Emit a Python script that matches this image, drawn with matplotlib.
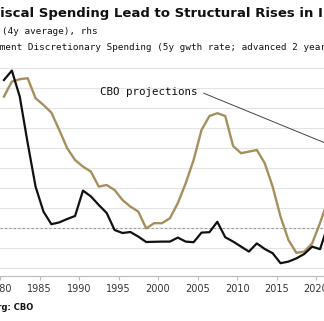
import matplotlib
matplotlib.use("Agg")
import matplotlib.pyplot as plt
import numpy as np

# ── Data (index units, dashed line = 0) ──────────────────────────────────────

YEARS = list(range(1980, 2022))

DEFICIT_4Y = [
    7.40, 7.87, 6.57, 4.25, 2.07, 0.82, 0.19, 0.28, 0.45, 0.60,
    1.87, 1.58, 1.15, 0.75, -0.10, -0.25, -0.20, -0.43, -0.70, -0.69,
    -0.68, -0.68, -0.48, -0.68, -0.71, -0.23, -0.21, 0.31, -0.46, -0.68,
    -0.93, -1.18, -0.77, -1.05, -1.26, -1.76, -1.68, -1.52, -1.30, -0.93,
    -1.06, 0.15,
]

DISCRETIONARY_5Y = [
    6.57, 7.32, 7.44, 7.49, 6.49, 6.15, 5.77, 4.90, 3.99, 3.40,
    3.07, 2.82, 2.07, 2.15, 1.90, 1.40, 1.07, 0.82, -0.02, 0.24,
    0.24, 0.49, 1.24, 2.24, 3.40, 4.90, 5.60, 5.74, 5.60, 4.10,
    3.74, 3.82, 3.90, 3.24, 2.07, 0.57, -0.60, -1.24, -1.18, -0.77,
    0.25, 1.40,
]

XTICKS = [1980, 1985, 1990, 1995, 2000, 2005, 2010, 2015, 2020]

TITLE = "Fiscal Spending Lead to Structural Rises in I"
LINE2 = "Deficit (4y average), rhs"
LINE3 = "Government Discretionary Spending (5y gwth rate; advanced 2 years)"
SOURCE = "Bloomberg: CBO"

GOLD = "#a68f5e"
W, H = 324, 321

# ── Figure ───────────────────────────────────────────────────────────────────

fig = plt.figure(figsize=(W / 100, H / 100), dpi=100)
ax = fig.add_axes([0.0, (H - 276) / H, 1.0, (276 - 56) / H])

x = np.array(YEARS) + 0.5   # mid-year
ax.plot(x, DISCRETIONARY_5Y, color=GOLD, lw=1.7, solid_joinstyle="round", zorder=3)
ax.plot(x, DEFICIT_4Y, color="#111111", lw=1.6, solid_joinstyle="round", zorder=4)

ax.set_xlim(1980.5, 2021.0)
ax.set_ylim(-2.4, 8.6)
ax.set_yticks(range(-2, 9))
ax.yaxis.grid(True, color="#e4e4e4", lw=0.8)
ax.axhline(0, color="#9a9a9a", lw=0.8, ls=(0, (2, 2)), zorder=2)
ax.set_axisbelow(True)

ax.set_xticks(XTICKS)
ax.set_xticklabels([str(t) for t in XTICKS])
ax.tick_params(axis="x", length=3, width=0.8, color="#bbbbbb", pad=3,
               labelsize=7, labelcolor="#333333")
ax.tick_params(axis="y", left=False, labelleft=False)
for side in ("left", "right", "top"):
    ax.spines[side].set_visible(False)
ax.spines["bottom"].set_color("#bbbbbb")
ax.spines["bottom"].set_linewidth(0.8)

ax.annotate("CBO projections", xy=(2023.0, 3.95), xytext=(1992.6, 6.8),
            ha="left", va="center", family="DejaVu Sans Mono", fontsize=7.8,
            color="#111111", annotation_clip=False,
            arrowprops=dict(arrowstyle="-", color="#444444", lw=0.7,
                            relpos=(1.0, 0.65), shrinkA=3, shrinkB=0))

# ── Header / footer text (cropped at the edges like the reference) ───────────

def px(xp, yp):
    return xp / W, 1 - yp / H

fig.text(*px(-9, 13), TITLE, ha="left", va="center", fontsize=9.5,
         fontweight="bold", color="#111111")
fig.text(*px(-42.8, 32), LINE2, ha="left", va="center", fontsize=6.7,
         family="DejaVu Sans Mono", color="#111111")
fig.text(*px(-34, 48), LINE3, ha="left", va="center", fontsize=6.7,
         family="DejaVu Sans Mono", color="#111111")
fig.text(*px(-43.5, 307), SOURCE, ha="left", va="center", fontsize=6,
         fontweight="bold", color="#111111")

fig.savefig("out.png", dpi=100)
